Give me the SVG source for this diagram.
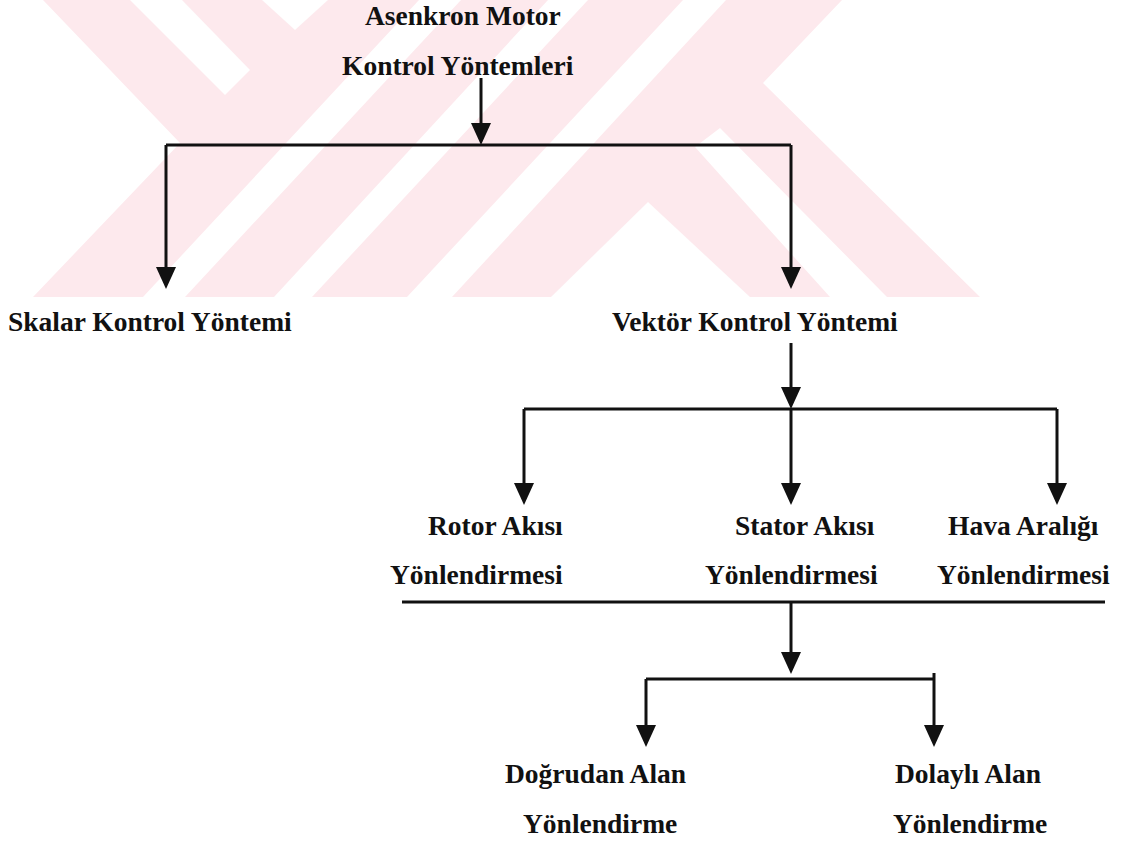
<svg xmlns="http://www.w3.org/2000/svg" width="1138" height="841" viewBox="0 0 1138 841">
<defs>
<style>
.wm{fill:#fde9ed}
.wg{fill:#ffffff}
.lbl{font-family:"Liberation Serif","Times New Roman",serif;font-weight:bold;font-size:27.5px;fill:#111}
.ln{fill:none;stroke:#111;stroke-width:3}
</style>
<marker id="ah" viewBox="0 0 22 20" refX="14" refY="10" markerWidth="22" markerHeight="20" markerUnits="userSpaceOnUse" orient="auto">
<path d="M0,0 L22,10 L0,20 z" fill="#111"/>
</marker>
</defs>
<rect x="0" y="0" width="1138" height="841" fill="#ffffff"/>
<g id="watermark">
<polygon class="wm" points="43,0 842,0 763,83 980,297 33,297 180,143"/>
<polygon class="wg" points="130,0 182,0 250,70 225,95"/>
<polygon class="wg" points="262,0 328,0 295,30"/>
<polygon class="wg" points="419,0 461,0 185,297 143,297"/>
<polygon class="wg" points="548,0 588,0 312,297 274,297"/>
<polygon class="wg" points="683,0 726,0 452,297 407,297"/>
<polygon class="wg" points="648,202 750,297 551,297"/>
<polygon class="wg" points="720,128 887,297 830,297 695,147"/>
</g>
<g id="connectors">
<path class="ln" d="M481,78 V137" marker-end="url(#ah)"/>
<path class="ln" d="M166,145 H791"/>
<path class="ln" d="M166,145 V281" marker-end="url(#ah)"/>
<path class="ln" d="M791,145 V281" marker-end="url(#ah)"/>
<path class="ln" d="M791,343 V401" marker-end="url(#ah)"/>
<path class="ln" d="M524,409 H1057"/>
<path class="ln" d="M524,409 V497" marker-end="url(#ah)"/>
<path class="ln" d="M791,409 V497" marker-end="url(#ah)"/>
<path class="ln" d="M1057,409 V497" marker-end="url(#ah)"/>
<path class="ln" d="M402,602 H1105"/>
<path class="ln" d="M791,602 V666" marker-end="url(#ah)"/>
<path class="ln" d="M646,679 H934"/>
<path class="ln" d="M646,679 V739" marker-end="url(#ah)"/>
<path class="ln" d="M934,673 V739" marker-end="url(#ah)"/>
</g>
<g id="node-root">
<text class="lbl" x="365" y="25">Asenkron Motor</text>
<text class="lbl" x="342" y="75">Kontrol Yöntemleri</text>
</g>
<g id="node-skalar">
<text class="lbl" x="8" y="331">Skalar Kontrol Yöntemi</text>
</g>
<g id="node-vektor">
<text class="lbl" x="612" y="331">Vektör Kontrol Yöntemi</text>
</g>
<g id="node-rotor">
<text class="lbl" x="428" y="535">Rotor Akısı</text>
<text class="lbl" x="390" y="584">Yönlendirmesi</text>
</g>
<g id="node-stator">
<text class="lbl" x="735" y="535">Stator Akısı</text>
<text class="lbl" x="705" y="584">Yönlendirmesi</text>
</g>
<g id="node-hava">
<text class="lbl" x="948" y="535">Hava Aralığı</text>
<text class="lbl" x="937" y="584">Yönlendirmesi</text>
</g>
<g id="node-dogrudan">
<text class="lbl" x="505" y="783">Doğrudan Alan</text>
<text class="lbl" x="523" y="833">Yönlendirme</text>
</g>
<g id="node-dolayli">
<text class="lbl" x="895" y="783">Dolaylı Alan</text>
<text class="lbl" x="893" y="833">Yönlendirme</text>
</g>
</svg>
